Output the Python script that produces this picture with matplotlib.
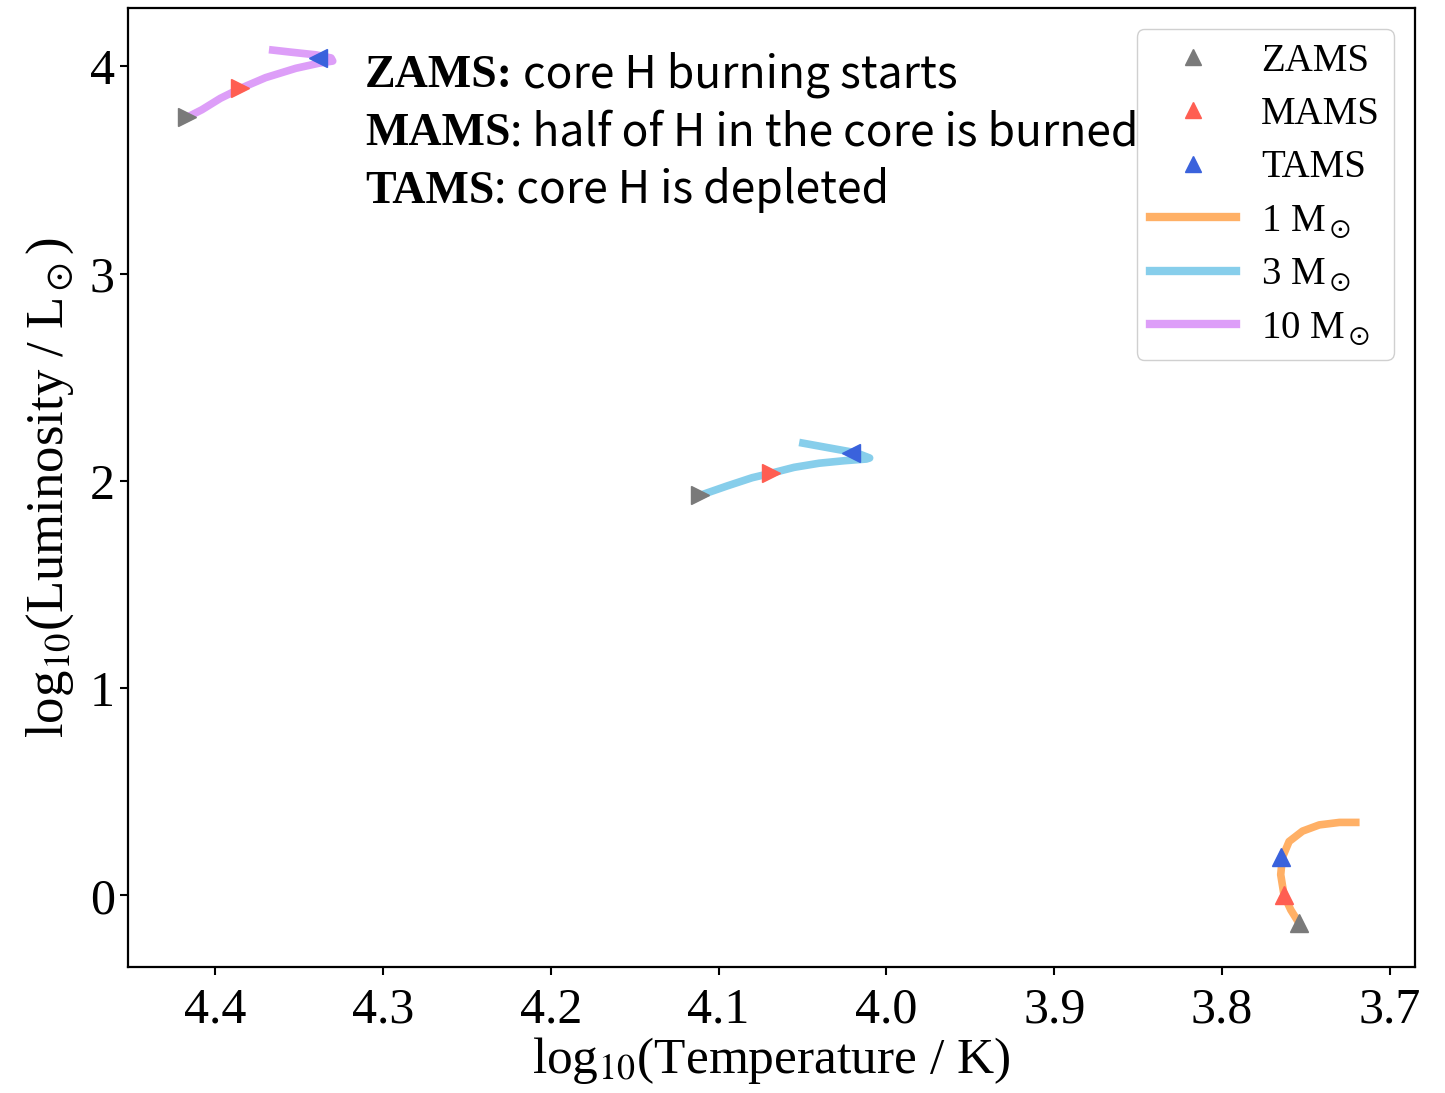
import matplotlib
matplotlib.use("Agg")
import matplotlib.pyplot as plt
from matplotlib.lines import Line2D

plt.rcParams["font.family"] = ["Liberation Serif", "DejaVu Serif"]
plt.rcParams["mathtext.fontset"] = "stix"

# Evolutionary tracks: log10(Teff), log10(L/Lsun)
t1 = [3.754, 3.759, 3.763, 3.765, 3.764, 3.760, 3.752, 3.742, 3.730, 3.718]
l1 = [-0.135, -0.07, 0.00, 0.10, 0.183, 0.26, 0.31, 0.340, 0.352, 0.352]

t3 = [4.111, 4.095, 4.080, 4.069, 4.055, 4.040, 4.025, 4.012, 4.010, 4.018, 4.035, 4.052]
l3 = [1.930, 1.975, 2.015, 2.036, 2.065, 2.085, 2.097, 2.105, 2.110, 2.135, 2.160, 2.185]

t10 = [4.417, 4.408, 4.397, 4.385, 4.370, 4.352, 4.338, 4.330, 4.331, 4.340, 4.355, 4.368]
l10 = [3.753, 3.790, 3.845, 3.893, 3.945, 3.990, 4.015, 4.025, 4.040, 4.055, 4.068, 4.080]

# Stage points: (Teff, L) for ZAMS, MAMS, TAMS
zams = {"1": (3.754, -0.135), "3": (4.111, 1.930), "10": (4.417, 3.753)}
mams = {"1": (3.763, 0.000), "3": (4.069, 2.036), "10": (4.385, 3.893)}
tams = {"1": (3.765, 0.183), "3": (4.021, 2.132), "10": (4.339, 4.038)}

c_zams, c_mams, c_tams = "#7a7a7a", "#ff5e52", "#3a62dc"
c1, c3, c10 = "#ffb066", "#87ceeb", "#dd9ef8"

fig = plt.figure(figsize=(14.45, 10.93), dpi=100)
ax = fig.add_axes([0.0886, 0.115, 0.8906, 0.8775])

lw = 5.5
ax.plot(t1, l1, color=c1, lw=lw, solid_capstyle="butt")
ax.plot(t3, l3, color=c3, lw=lw, solid_capstyle="butt")
ax.plot(t10, l10, color=c10, lw=lw, solid_capstyle="butt")

ms = 13
markers = {"1": ("^", "^", "^"), "3": (">", ">", "<"), "10": (">", ">", "<")}
for key, (mz, mm, mt) in markers.items():
    ax.plot(*zams[key], marker=mz, color=c_zams, ms=ms, ls="none")
    ax.plot(*mams[key], marker=mm, color=c_mams, ms=ms, ls="none")
    ax.plot(*tams[key], marker=mt, color=c_tams, ms=ms, ls="none")

ax.set_xlim(4.452, 3.685)
ax.set_ylim(-0.347, 4.28)
ax.set_xticks([4.4, 4.3, 4.2, 4.1, 4.0, 3.9, 3.8, 3.7])
ax.set_yticks([0, 1, 2, 3, 4])
ax.tick_params(labelsize=36, width=1.5, length=6)
ax.tick_params(axis="x", pad=8)
for s in ax.spines.values():
    s.set_linewidth(1.6)

ax.set_xlabel(r"log$_{10}$(Temperature / K)", fontsize=37, labelpad=1)
ax.set_ylabel(r"log$_{10}$(Luminosity / L$_\odot$)", fontsize=38, labelpad=10)

handles = [
    Line2D([], [], marker="^", color=c_zams, ls="none", ms=11),
    Line2D([], [], marker="^", color=c_mams, ls="none", ms=11),
    Line2D([], [], marker="^", color=c_tams, ls="none", ms=11),
    Line2D([], [], color=c1, lw=6),
    Line2D([], [], color=c3, lw=6),
    Line2D([], [], color=c10, lw=6),
]
labels = ["ZAMS", "MAMS", "TAMS", r"1 M$_\odot$", r"3 M$_\odot$", r"10 M$_\odot$"]
leg = ax.legend(handles, labels, loc="upper right", bbox_to_anchor=(0.9985, 0.9985),
                fontsize=28, handlelength=2.2, handletextpad=0.65, labelspacing=0.42,
                borderpad=0.35, framealpha=1.0, edgecolor="#d0d0d0", fancybox=True)

# Stage descriptions: bold serif name followed by a sans explanation
lines = [("ZAMS:", " core H burning starts"),
         ("MAMS", ": half of H in the core is burned"),
         ("TAMS", ": core H is depleted")]
fig.canvas.draw()
renderer = fig.canvas.get_renderer()
x0, y0, dy = 365, 1093 - 87, 58
for i, (bold, rest) in enumerate(lines):
    y = y0 - i * dy
    tb = fig.text(x0 / 1445, y / 1093, bold, fontsize=33, fontweight="bold",
                  family=["Liberation Serif"], va="baseline", ha="left")
    bb = tb.get_window_extent(renderer)
    fig.text(bb.x1 / 1445, y / 1093, rest, fontsize=32, fontweight="light",
             family=["Noto Sans CJK SC", "DejaVu Sans"], va="baseline", ha="left")

fig.savefig("out.png", dpi=100)
